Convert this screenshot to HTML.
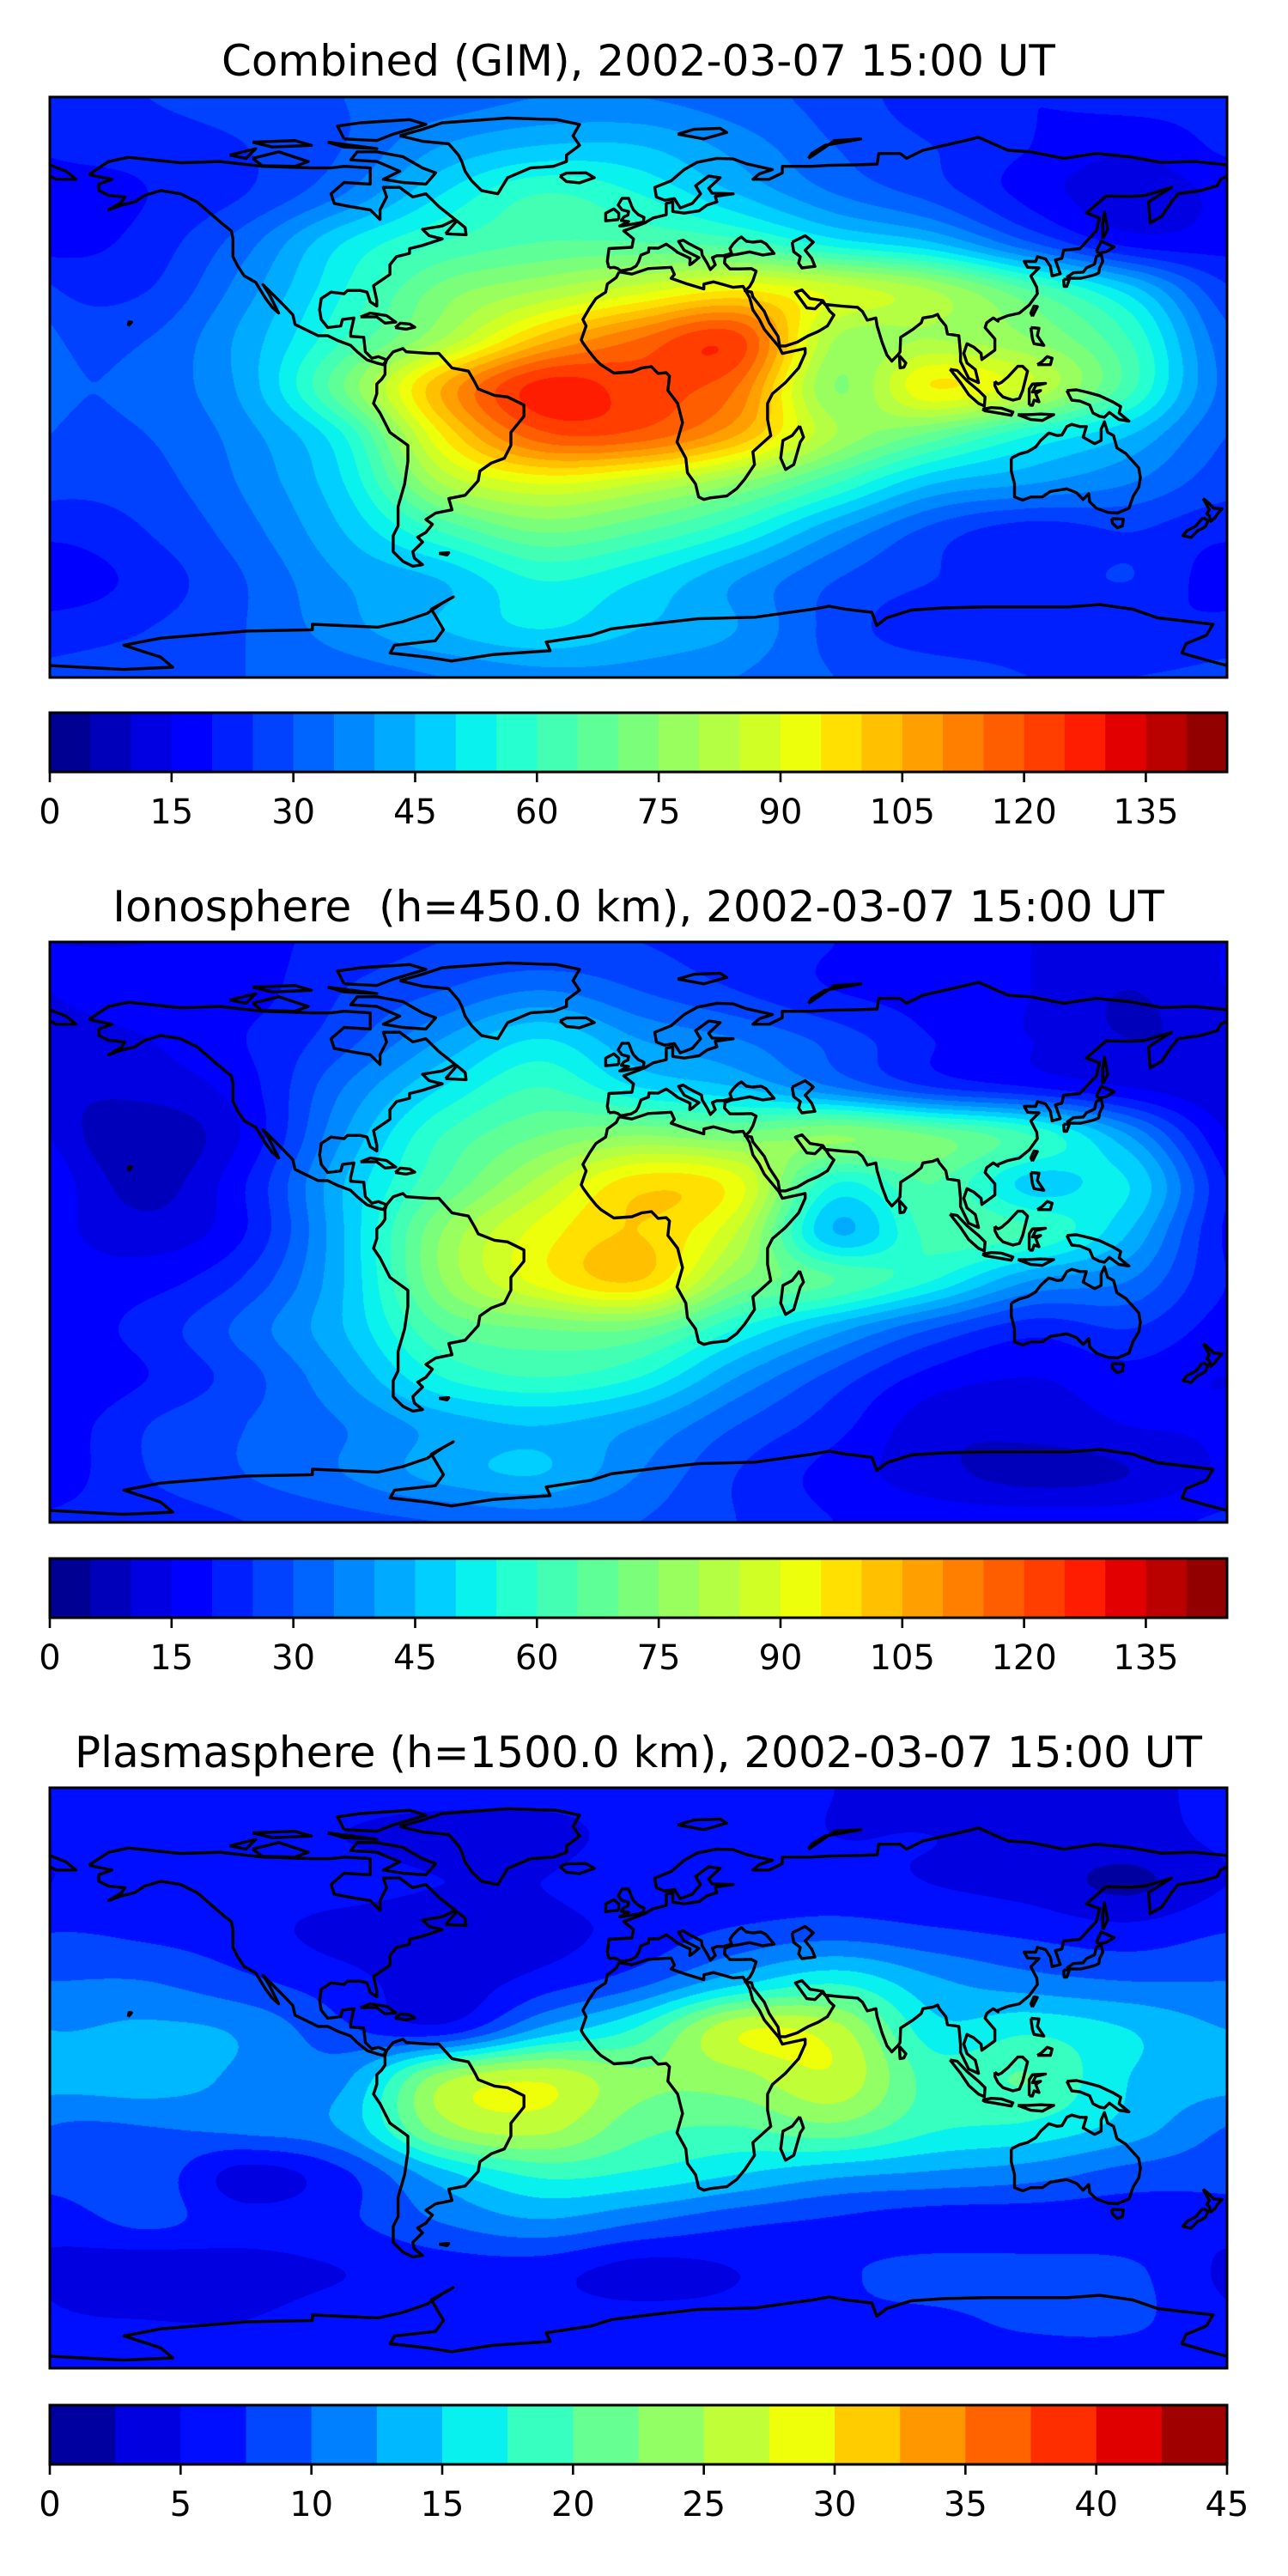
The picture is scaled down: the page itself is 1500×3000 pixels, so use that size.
<!DOCTYPE html>
<html><head><meta charset="utf-8">
<style>
html,body{margin:0;padding:0;background:#fff;}
#page{position:relative;width:1500px;height:3000px;overflow:hidden;background:#fff;}
canvas{position:absolute;}
#overlay{position:absolute;left:0;top:0;}
text{font-family:"DejaVu Sans","Liberation Sans",sans-serif;fill:#000;}
</style></head>
<body>
<div id="page">
<canvas id="c0" width="1371" height="676" style="left:58px;top:113px"></canvas>
<canvas id="c1" width="1371" height="676" style="left:58px;top:1097px"></canvas>
<canvas id="c2" width="1371" height="676" style="left:58px;top:2082px"></canvas>
<svg id="overlay" width="1500" height="3000" xmlns="http://www.w3.org/2000/svg">
<text x="743.5" y="88" font-size="50" text-anchor="middle">Combined (GIM), 2002-03-07 15:00 UT</text>
<text x="743.5" y="1073" font-size="50" text-anchor="middle" xml:space="preserve">Ionosphere  (h=450.0 km), 2002-03-07 15:00 UT</text>
<text x="743.5" y="2058" font-size="50" text-anchor="middle">Plasmasphere (h=1500.0 km), 2002-03-07 15:00 UT</text>
</svg>
</div>
<script>
// ---- data grids (lon -180..180 step 30, lat 90..-90 step 15) ----
const gridLons = [-180,-150,-120,-90,-60,-30,0,30,60,90,120,150,180];
const gridLats = [90,75,60,45,30,15,0,-15,-30,-45,-60,-75,-90];
const gimValues = [
[22,25,28,30,32,35,35,32,28,22,20,22,22],
[22,22,25,30,40,45,45,38,30,25,20,16,20],
[18,20,25,35,50,60,55,45,35,28,18,12,15],
[18,22,33,50,60,65,65,62,52,45,30,18,18],
[20,25,38,55,72,80,88,95,88,80,65,48,32],
[25,30,42,60,80,102,115,122,80,80,75,60,38],
[28,32,42,70,105,127,122,115,75,95,85,62,38],
[28,30,38,55,95,118,118,105,80,68,55,45,32],
[26,28,36,50,80,90,85,75,60,45,40,35,28],
[20,25,33,45,60,70,65,55,40,28,22,25,22],
[15,22,30,40,45,55,50,40,30,25,22,25,20],
[22,25,30,38,45,50,45,40,28,22,22,20,22],
[28,28,30,32,35,38,38,35,30,28,25,25,25]
];
const ionoValues = [
[15,15,18,22,25,25,25,22,20,18,15,15,15],
[15,18,18,25,30,35,30,25,20,18,15,10,15],
[12,15,20,28,40,50,40,35,28,20,15,10,12],
[10,12,18,35,50,60,50,45,35,25,20,15,12],
[10,6,16,40,60,70,75,72,75,70,60,40,20],
[12,8,20,45,65,82,98,92,55,65,48,50,28],
[16,12,20,45,75,92,100,85,45,62,60,45,22],
[18,18,26,45,75,92,100,75,65,55,40,35,22],
[18,22,32,45,65,70,70,55,42,30,22,25,18],
[15,20,28,40,55,60,55,40,28,18,15,18,15],
[18,25,30,35,42,45,40,30,22,12,12,15,15],
[18,25,30,35,42,45,35,25,18,12,8,10,15],
[22,22,25,28,30,32,30,25,20,18,18,18,20]
];
const plasmaValues = [
[6,6,6,6,6,6,6,6,5,4,4,4,6],
[6,6,6,5,4,4,6,6,5,5,4,4,5],
[5,6,6,6,5,5,7,6,6,5,4,2,5],
[8,7,6,4,3,4,6,8,9,8,7,6,7],
[11,10,8,6,3.5,6,9,14,17,13,11,10,9],
[13,13,12,8,6,13,18,27,26,16,17,15,12],
[14,14,12,12,24,27,23,24,27,19,20,15,13],
[10,10,11,13,24,26,21,20,22,18,17,14,10],
[9,9,4,7,14,18,17,15,13,12,11,9,8],
[6,8,6,7,10,12,10,8,7,6,6,6,6],
[4,3,4,5,6,6,4,5,7,8.5,8.5,8,5],
[5,5,5,6,6,6,6,6,7,7,8,8,6],
[6,6,6,6,6,6,6,6,6,6,6,6,6]
];
const tecLevels = [0,5,10,15,20,25,30,35,40,45,50,55,60,65,70,75,80,85,90,95,100,105,110,115,120,125,130,135,140,145];
const plasmaLevels = [0,2.5,5,7.5,10,12.5,15,17.5,20,22.5,25,27.5,30,32.5,35,37.5,40,42.5,45];
const tecTicks = [0,15,30,45,60,75,90,105,120,135];
const plasmaTicks = [0,5,10,15,20,25,30,35,40,45];

// ---- coastlines (lon, lat) ----
const coasts = [
[[-168,66],[-162,70],[-156,71.3],[-140,69.6],[-128,70],[-115,68.5],[-100,68],[-94,68],[-90,68.5],[-82,68],[-82,63],[-90,63.5],[-94,60],[-93,57],[-88,56],[-82,55],[-79,52],[-79,55],[-77,59],[-78,62],[-73,62],[-69,59],[-65,60],[-61,56],[-56,52],[-60,50],[-66,49],[-64,47],[-60,46],[-66,44],[-70,43],[-70,41.5],[-74,40.5],[-76,38],[-76,35],[-81,31.5],[-80,27],[-80,25.2],[-82,26.5],[-83,29.5],[-85,30],[-89,30],[-90,29],[-94,29.5],[-97,27.5],[-97.5,24],[-97,21],[-95,18.5],[-91,19],[-90.5,21],[-87,21.5],[-88,17],[-88,15.8],[-84,15.5],[-83.5,11],[-81.5,9],[-79.5,9.5],[-77,8.5],[-78,7],[-80,7.5],[-83,8.5],[-86,11],[-88,13],[-92,14.5],[-95,16],[-98,16],[-105,19.5],[-105.7,22.5],[-109,26],[-112.5,29.5],[-114.8,31.8],[-113,29],[-111.5,26],[-110,23],[-112,24.8],[-114,27.5],[-115.5,30],[-117,32.5],[-120.5,34.5],[-122.5,37.5],[-124,40.5],[-124,46],[-124.5,48.5],[-127,50.5],[-131,54],[-135,57.5],[-140,60],[-146,61],[-151,59.5],[-154,57.5],[-158,56.5],[-162,55],[-158,57.5],[-157,59],[-162,59.5],[-165,61],[-165,63],[-161,64.5],[-166,65.5],[-168,66]],
[[-80,73],[-72,71.5],[-66,68],[-62,66.5],[-65,63],[-72,63.5],[-78,64.5],[-73,67],[-80,70],[-88,70.5],[-86,73],[-80,73]],
[[-118,71],[-110,73],[-101,70],[-105,68.5],[-115,68.7],[-118,71]],
[[-90,77],[-80,76.5],[-75,78.5],[-65,81.5],[-70,83],[-85,82],[-92,81],[-90,77]],
[[-95,76],[-80,74],[-90,74.5],[-95,76]],
[[-125,72],[-117,74],[-120,71],[-125,72]],
[[-118,76],[-105,76.5],[-100,75],[-112,74.5],[-118,76]],
[[-73,78],[-66,80],[-60,82],[-40,83.5],[-25,83],[-18,81.5],[-20,78],[-18,75],[-22,72],[-22,70],[-26,68.5],[-33,68],[-40,65],[-43,60],[-48,61],[-51,64],[-53,67],[-54,70],[-55,72],[-58,75.5],[-66,76.3],[-73,78]],
[[-24,65.5],[-22,66.4],[-16,66.5],[-13.5,65],[-18,63.4],[-22,63.8],[-24,65.5]],
[[-77,8.5],[-75,11],[-72,12],[-71,11],[-64,10.5],[-61,10.5],[-57,6],[-52,5],[-50,1.5],[-49,-0.5],[-44,-2.5],[-40,-3],[-35,-5.5],[-35,-9],[-39,-14],[-39,-18],[-41,-22],[-45,-23.5],[-48.5,-26],[-49,-29],[-53,-33.5],[-58,-34.5],[-57,-38],[-62,-39],[-65,-41],[-63,-42.5],[-65,-45],[-67.5,-46.5],[-66,-48],[-69,-51],[-68.5,-53],[-66,-55],[-69,-55.5],[-72,-54],[-75,-51],[-75,-46],[-73.5,-43],[-73.5,-37],[-71.5,-30],[-70.5,-23],[-70.5,-18],[-76,-14],[-79,-8],[-81,-5],[-80,-2],[-80,1],[-78.5,2.5],[-77.5,4],[-77.5,7],[-77,8.5]],
[[-5.9,35.8],[-2,35.1],[3,36.8],[10,37.2],[11,35],[10,33.8],[15,32],[20,30.5],[20,32],[23,32.7],[29,31],[32,31.3],[34,27.8],[35,24],[37,21],[38.5,18],[43,12.5],[44,10.5],[51,12],[51,10.5],[49,6],[45,1.5],[41,-2],[39.5,-5],[39.5,-10],[40.5,-15],[35,-20],[35.5,-24],[32.5,-28.5],[30,-31.5],[27,-33.7],[22,-34.3],[20,-34.8],[18.4,-34],[17.5,-30],[15,-26.5],[14.5,-22],[11.8,-17],[13.5,-11],[12,-5],[9,-1],[9.5,3.5],[8.5,4.5],[6,4.3],[4,6.4],[1,6],[-2,4.8],[-7.5,4.4],[-11.5,7],[-13,8.5],[-15,11],[-16.8,13.5],[-17.5,14.7],[-16,19],[-17,21],[-15,24.5],[-13,27.5],[-10,29.5],[-9.5,32],[-6.8,34],[-5.9,35.8]],
[[49.3,-12],[50.5,-15.5],[49.5,-17],[47.5,-24],[45,-25.5],[43.5,-22],[44.2,-16.5],[47,-15],[49.3,-12]],
[[-9,37],[-9.5,39],[-9,43],[-2,43.4],[-1.5,46],[-4.5,48.5],[-1.5,49.6],[2,51],[4.5,52.5],[8.5,53.5],[8.5,57],[10.5,57.5],[10.5,54.5],[14,54],[18.5,54.7],[21,56.5],[24,57.5],[23.5,59.2],[29,60],[22.5,60.2],[21.5,61.7],[25,65],[21.5,65.5],[17.5,62.5],[19,60],[16.5,57],[12.8,55.6],[11,58.5],[8,58],[5.5,59],[5,62],[10,64],[14,67.5],[18,69.8],[24,71],[29,70.8],[33,69.3],[41,67.5],[37,66.2],[35,64.5],[40,64.5],[44,66.5],[44,68.5],[53,68.5],[58,68.8],[67,69],[73,69.2],[73.5,72.5],[80,72.5],[82,71],[87,73.5],[100,76.5],[104,77.5],[113,73.5],[120,73],[130,71],[140,72.5],[150,71.5],[160,69.7],[170,70],[180,69]],
[[-180,65.5],[-178,64.5],[-172,64.5],[-175,67],[-180,69]],
[[180,65.5],[178,64.5],[177,62.5],[172,61],[165,60],[163,57.5],[160,53],[156.5,51],[156,57.5],[163,62],[155,59.5],[151,59.2],[143,59.3],[137,54],[141,52.5],[140,48.5],[135,43],[130,42.5],[129.5,40],[127.5,39.5],[129,35.2],[126.5,34.5],[126,37.5],[124.5,39.8],[122,40.5],[121.5,39],[118,39],[119,37.2],[122.5,37],[120,34.5],[121.8,31],[122,29],[119.5,25.5],[116.5,23],[113,22.2],[110,21],[110,20.5],[108.5,21.5],[106.5,20],[106,18.5],[109,15],[109,11.5],[105,8.6],[104.8,10.5],[102.5,12.5],[100.5,13.5],[99.5,10.5],[100.5,7.5],[103,5.5],[104,1.4],[101,2.8],[98.5,8],[98.5,10.5],[98,16],[94.5,16.5],[94,19],[92,21.5],[91.5,22.6],[90,22],[87,21.5],[86.5,20],[84,18],[80.2,15.5],[80,11],[79.5,10.2],[77.5,8.1],[76,10],[74.5,14],[73,19],[72.6,21.5],[70,20.8],[68.5,23.5],[67,24.8],[62,25.2],[57,25.7],[56.3,26.6],[54,24.3],[51.5,24.6],[50.5,26],[48,29.5],[50,30.2],[52.5,27.5],[56.4,26.9],[58.5,23.6],[59.8,22.4],[57.8,19],[55,17.3],[52,16],[48.6,14],[45,12.8],[43.2,12.8],[42.7,15.8],[40,20],[38.5,23.5],[35,28],[34.6,29.5],[32.6,29.9],[34,31.2],[35,33],[36,36],[34.5,36.8],[31,36.7],[28,36.7],[26.3,38.5],[26.5,40.2],[28.5,41],[30,41.2],[34,42],[38,41],[41.5,41.5],[39,44.5],[37.5,45.3],[35,45],[33,45.3],[31.5,46.6],[30.5,46],[29,44.5],[28,43],[28.5,41.5],[26,40.8],[24,40.8],[22.6,40.2],[23.5,38],[22,36.5],[21,38.5],[19.5,41],[19.3,42.5],[15.5,44.5],[13.7,45.6],[12.3,45.2],[14,42.5],[16,41.5],[18.5,40.2],[16.5,38.5],[15.7,38],[15.8,40],[12,41.8],[10.5,43],[8.5,44.4],[6,43.1],[3.2,43.2],[3.1,41.9],[0.8,41],[0,38.8],[-0.7,37.6],[-2.2,36.7],[-5.4,36.1],[-6.3,36.8],[-7.5,37.2],[-9,37]],
[[47,45],[51,47],[53.5,45],[51,42.5],[53,40],[54,37.5],[50,37],[49,38.5],[49.5,40.5],[47.5,42],[47,45]],
[[-5,50],[1.5,51.2],[1.7,52.7],[0,53.5],[-1.5,55],[-2,56],[-3,58.6],[-5,58.6],[-6.2,56.5],[-5,55],[-3,54.5],[-3.2,53.4],[-4.5,52.8],[-5.2,51.7],[-3,51.4],[-5.7,50],[-5,50]],
[[-6,52],[-6,54],[-7.5,55.3],[-10,54],[-10,51.6],[-6,52]],
[[130.9,34],[133,35.5],[136,35.7],[137,37],[139.5,38.2],[140,40.5],[141.5,41.3],[142,39],[141,37],[140.8,35.5],[139.8,35],[138.5,34.6],[136.8,34.2],[135.2,33.8],[132.5,33.8],[130.9,34]],
[[130,33.5],[131.8,33.5],[131,31.3],[130.2,31.3],[130,33.5]],
[[140,42],[141.5,45.3],[145.5,43.5],[143,42],[141,41.7],[140,42]],
[[142,46],[143.5,49],[142.5,54.3],[142,51],[142,46]],
[[120.5,22],[122,25],[121,25.2],[120,23],[120.5,22]],
[[120,18.5],[122.5,18.3],[122,16],[124,13],[121,13.5],[120.5,15],[120,18.5]],
[[122,7],[126,7],[126.5,9],[125,9.5],[123.5,8],[122,7]],
[[79.8,9.8],[81.8,7.5],[81.2,6.2],[80,6],[79.8,9.8]],
[[95.3,5.6],[97.5,5.2],[100.5,2],[104,-1],[106,-3],[105.8,-5.8],[104,-5],[101,-2.3],[98.5,1.5],[95.3,5.6]],
[[105.2,-6.8],[108,-6.3],[111,-6.5],[114.5,-7.7],[114,-8.7],[109,-7.8],[106,-7.3],[105.2,-6.8]],
[[109,1.8],[110,1],[111,1.5],[113,3.2],[116,6.5],[117.5,6.5],[119,5],[118,1],[117.5,-1],[116.5,-3.5],[114.5,-4],[111.5,-3],[110,-1.5],[109,0.5],[109,1.8]],
[[119.5,-5.5],[119.5,-0.5],[120.5,1],[124.5,1.2],[121.5,0.5],[120.5,-1.5],[123,-1],[121.5,-2],[122.5,-4.5],[121,-4],[120.5,-5.6],[119.5,-5.5]],
[[131,-1],[134,-0.8],[137,-1.5],[141,-2.6],[145,-4.5],[147.5,-6],[147,-8],[150,-10.5],[147,-10],[144,-7.8],[142.5,-9.3],[141,-9],[139,-8],[138,-5.5],[135,-4.3],[132.5,-4],[131,-1]],
[[116,-8.5],[119,-8.5],[123,-8.3],[127,-8.5],[125,-9.5],[123.5,-10.3],[120,-10],[116,-8.5]],
[[114,-22],[114,-26],[115,-30],[115,-34],[117.5,-35],[120,-34],[123.5,-34],[126,-32.3],[131,-31.5],[134,-32.7],[136,-34.8],[137.7,-33],[138,-35.5],[140,-37.5],[143.5,-38.8],[146.5,-39],[150,-37.5],[151.3,-33.8],[153,-31],[153.5,-28],[153,-25],[150.8,-22.5],[149,-20.5],[146.3,-18.8],[145.3,-15],[143.5,-14],[142.5,-10.7],[141.5,-13],[141.5,-16.5],[139.5,-17.5],[136,-15.5],[137,-12.2],[135,-12.2],[132.5,-11.5],[131,-12.2],[129.5,-14.8],[128,-15],[125.5,-14.2],[123,-16.5],[121.5,-18.5],[119,-20],[116.5,-20.7],[114,-22]],
[[144.7,-40.7],[148.3,-40.9],[148,-43],[146.5,-43.6],[145,-42.2],[144.7,-40.7]],
[[172.7,-34.5],[174.5,-36],[175.9,-37.5],[178.5,-37.7],[177,-39.3],[176.3,-40.5],[175,-41.6],[174.6,-39.9],[173.8,-39.2],[174.6,-38],[172.7,-34.5]],
[[172.7,-40.5],[174.2,-41.3],[173.5,-43],[172.5,-43.8],[171,-44.5],[169,-46.6],[166.5,-46],[167.7,-44.5],[170.5,-43],[172.1,-41],[172.7,-40.5]],
[[-85,21.8],[-82,23],[-77,22.2],[-74.2,20.2],[-77.5,19.9],[-80,21.8],[-85,21.8]],
[[-74.4,18.5],[-72.8,19.9],[-69.9,19.6],[-68.4,18.6],[-71,18],[-74.4,18.5]],
[[-59,47.6],[-55.5,51.6],[-53,49.5],[-52.7,47.3],[-59,47.6]],
[[-156,19],[-155,20.2],[-155.8,20.3],[-156,19]],
[[-61,-51.5],[-58,-51.3],[-58.5,-52],[-61,-51.5]],
[[52,71],[55,73],[60,76.5],[68,77],[57,75],[53,72.5],[52,71]],
[[12,78.5],[17,80],[25,80.3],[27,79],[20,77],[12,78.5]],
[[-180,-86.3],[-157.4,-87.5],[-142.4,-86.8],[-146.1,-83.7],[-157.4,-80],[-146.1,-77.8],[-119.8,-75.6],[-99.7,-75.2],[-99.7,-73.5],[-79.6,-74.4],[-72.1,-72.7],[-64.6,-70.1],[-59.6,-66.7],[-56.6,-65],[-63.3,-68.8],[-59.6,-75.2],[-62.1,-78.6],[-74.6,-80],[-75.9,-82.4],[-64.6,-83.7],[-57.1,-84.9],[-44.5,-82.9],[-27,-81.7],[-28.2,-79],[-14.4,-76.9],[-8.2,-74.9],[5.6,-73.2],[18.2,-71.8],[35.7,-71.3],[53.3,-68.8],[58.3,-67.9],[63.3,-68.8],[71.4,-69.8],[72.9,-73.9],[75.9,-71.5],[83.4,-69.1],[93.4,-68.4],[106,-68.1],[118.5,-68.1],[131.1,-68.1],[141.1,-67.4],[151.1,-68.8],[158.7,-71.5],[175.7,-73.5],[173.7,-76.9],[167.5,-79.5],[166.2,-82.4],[173.7,-84.6],[180,-86.3]]
];

// ---- layout ----
const MX = 58, MW = 1371, MH = 676;
const panels = [
  {name:'combined', grid:gimValues, levels:tecLevels, ticks:tecTicks, mapTop:113, cbTop:830},
  {name:'ionosphere', grid:ionoValues, levels:tecLevels, ticks:tecTicks, mapTop:1097, cbTop:1815},
  {name:'plasmasphere', grid:plasmaValues, levels:plasmaLevels, ticks:plasmaTicks, mapTop:2082, cbTop:2801}
];
const CBH = 69;

function interp(pts, x){
  for(let i=0;i<pts.length-1;i++){
    if(x<=pts[i+1][0]){const t=(x-pts[i][0])/(pts[i+1][0]-pts[i][0]);return pts[i][1]+t*(pts[i+1][1]-pts[i][1]);}
  }
  return pts[pts.length-1][1];
}
function jet(x){
  const r=interp([[0,0],[0.35,0],[0.66,1],[0.89,1],[1,0.5]],x);
  const g=interp([[0,0],[0.125,0],[0.375,1],[0.64,1],[0.91,0],[1,0]],x);
  const b=interp([[0,0.5],[0.11,1],[0.34,1],[0.65,0],[1,0]],x);
  return [Math.round(r*255),Math.round(g*255),Math.round(b*255)];
}
function levelColors(levels){
  const vmin=levels[0], vmax=levels[levels.length-1], out=[];
  for(let i=0;i<levels.length-1;i++){
    out.push(jet(((levels[i]+levels[i+1])/2-vmin)/(vmax-vmin)));
  }
  return out;
}
function cr(p0,p1,p2,p3,t){
  return p1+0.5*t*(p2-p0+t*(2*p0-5*p1+4*p2-p3+t*(3*(p1-p2)+p3-p0)));
}
function sampleGrid(grid, lon, lat){
  const nc = gridLons.length-1, nr = gridLats.length;
  const fx = (lon-gridLons[0])/(gridLons[1]-gridLons[0]);
  const fy = (gridLats[0]-lat)/(gridLats[0]-gridLats[1]);
  const ix=Math.floor(fx), iy=Math.floor(fy), tx=fx-ix, ty=fy-iy;
  const rows=[];
  for(let j=-1;j<=2;j++){
    const r=Math.min(nr-1,Math.max(0,iy+j));
    const v=[];
    for(let i=-1;i<=2;i++){
      const c=((ix+i)%nc+nc)%nc;
      v.push(c===0?(grid[r][0]+grid[r][nc])/2:grid[r][c]);
    }
    rows.push(cr(v[0],v[1],v[2],v[3],tx));
  }
  return cr(rows[0],rows[1],rows[2],rows[3],ty);
}
function lx(lon){return MX+(lon+180)/360*MW;}
function ly(lat,top){return top+(90-lat)/180*MH;}

const svg=document.getElementById('overlay');
const NS='http://www.w3.org/2000/svg';
function mk(tag,attrs){const e=document.createElementNS(NS,tag);for(const k in attrs)e.setAttribute(k,attrs[k]);return e;}

panels.forEach((p,pi)=>{
  const cols=levelColors(p.levels);
  const nl=p.levels.length;
  const cv=document.getElementById('c'+pi);
  const ctx=cv.getContext('2d');
  const img=ctx.createImageData(MW,MH);
  const d=img.data;
  for(let y=0;y<MH;y++){
    const lat=90-(y+0.5)/MH*180;
    for(let x=0;x<MW;x++){
      const lon=-180+(x+0.5)/MW*360;
      const v=sampleGrid(p.grid,lon,lat);
      let k=0;
      while(k<nl-2 && v>=p.levels[k+1])k++;
      const c=cols[k];
      const o=(y*MW+x)*4;
      d[o]=c[0];d[o+1]=c[1];d[o+2]=c[2];d[o+3]=255;
    }
  }
  ctx.putImageData(img,0,0);

  const cid='clip'+pi;
  const cp=mk('clipPath',{id:cid});
  cp.appendChild(mk('rect',{x:MX,y:p.mapTop,width:MW,height:MH}));
  svg.appendChild(cp);
  const g=mk('g',{'clip-path':'url(#'+cid+')'});
  
  
  coasts.forEach(poly=>{
    let s='';
    poly.forEach((q,i)=>{s+=(i?'L':'M')+lx(q[0]).toFixed(1)+' '+ly(q[1],p.mapTop).toFixed(1);});
    const path=mk('path',{d:s,fill:'none',stroke:'#000','stroke-width':3.4,'stroke-linejoin':'round'});
    
    
    g.appendChild(path);
  });
  svg.appendChild(g);
  const frame=mk('rect',{x:MX,y:p.mapTop,width:MW,height:MH,fill:'none',stroke:'#000','stroke-width':3});
  
  
  svg.appendChild(frame);

  const vmin=p.levels[0], vmax=p.levels[nl-1];
  const cx=v=>MX+(v-vmin)/(vmax-vmin)*MW;
  const cb=mk('g',{});
  
  
  for(let i=0;i<nl-1;i++){
    const c=cols[i];
    const r=mk('rect',{x:cx(p.levels[i]).toFixed(2),y:p.cbTop,width:(cx(p.levels[i+1])-cx(p.levels[i])+0.6).toFixed(2),height:CBH,fill:'rgb('+c.join(',')+')'});
    
    
    cb.appendChild(r);
  }
  const border=mk('rect',{x:MX,y:p.cbTop,width:MW,height:CBH,fill:'none',stroke:'#000','stroke-width':3});
  
  
  cb.appendChild(border);
  p.ticks.forEach(t=>{
    const x=cx(t);
    const tk=mk('line',{x1:x,x2:x,y1:p.cbTop+CBH,y2:p.cbTop+CBH+12,stroke:'#000','stroke-width':2.6});
    
    
    cb.appendChild(tk);
    const tx=mk('text',{x:x,y:p.cbTop+CBH+60,'font-size':40,'text-anchor':'middle'});
    tx.textContent=String(t);
    
    
    cb.appendChild(tx);
  });
  svg.appendChild(cb);
});
</script>
</body></html>
